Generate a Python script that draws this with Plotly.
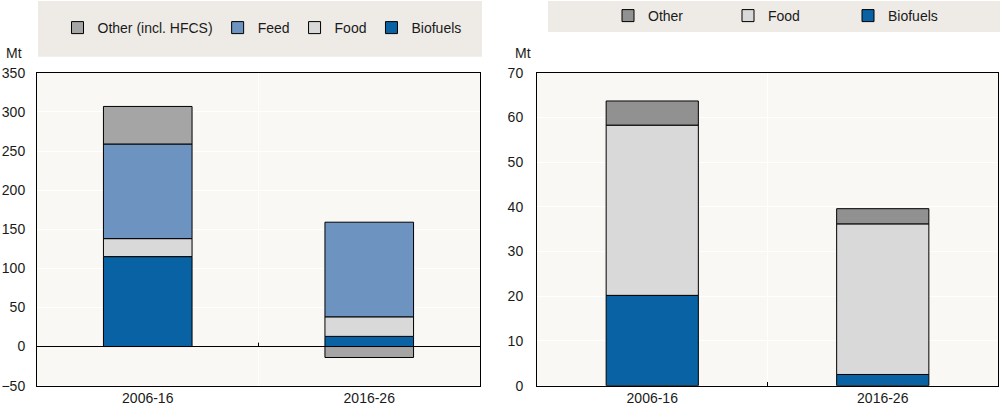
import plotly.graph_objects as go
from plotly.subplots import make_subplots

periods = ["2006-16", "2016-26"]

# Left panel (Mt)
left_biofuels = [115, 13]
left_food = [23, 25]
left_feed = [121, 121]
left_other = [48, -14]

# Right panel (Mt)
right_biofuels = [20.2, 2.5]
right_food = [38.1, 33.7]
right_other = [5.4, 3.4]

left_ticks = [-50, 0, 50, 100, 150, 200, 250, 300, 350]
right_ticks = [0, 10, 20, 30, 40, 50, 60, 70]

C_BIO = "#0862A3"
C_FEED = "#6D93C0"
C_FOOD = "#D9D9D9"
C_OTHER_L = "#A5A5A5"
C_OTHER_R = "#919191"
PLOT_BG = "#FAF8F5"
LEG_BG = "#EEEBE6"
FONT = "Liberation Sans Narrow, Arial Narrow, Liberation Sans, Arial, sans-serif"
FS = 14

fig = make_subplots(rows=1, cols=2)

line = dict(color="black", width=1)
fig.add_trace(go.Bar(x=periods, y=left_biofuels, name="Biofuels", marker=dict(color=C_BIO, line=line), legend="legend"), 1, 1)
fig.add_trace(go.Bar(x=periods, y=left_food, name="Food", marker=dict(color=C_FOOD, line=line), legend="legend"), 1, 1)
fig.add_trace(go.Bar(x=periods, y=left_feed, name="Feed", marker=dict(color=C_FEED, line=line), legend="legend"), 1, 1)
fig.add_trace(go.Bar(x=periods, y=left_other, name="Other (incl. HFCS)", marker=dict(color=C_OTHER_L, line=line), legend="legend"), 1, 1)

fig.add_trace(go.Bar(x=periods, y=right_biofuels, name="Biofuels", marker=dict(color=C_BIO, line=line), legend="legend2"), 1, 2)
fig.add_trace(go.Bar(x=periods, y=right_food, name="Food", marker=dict(color=C_FOOD, line=line), legend="legend2"), 1, 2)
fig.add_trace(go.Bar(x=periods, y=right_other, name="Other", marker=dict(color=C_OTHER_R, line=line), legend="legend2"), 1, 2)

ydom = [1 - 385.6 / 405, 1 - 72 / 405]
fig.update_layout(
    width=1000, height=405,
    margin=dict(l=0, r=0, t=0, b=0),
    paper_bgcolor="white",
    plot_bgcolor=PLOT_BG,
    barmode="relative",
    bargap=0.6,
    font=dict(family=FONT, size=FS, color="#1a1a1a"),
    showlegend=True,
    legend=dict(orientation="h", x=0.262, y=1 - 28 / 405, xanchor="center", yanchor="middle",
                traceorder="reversed", bgcolor="rgba(0,0,0,0)", font=dict(size=FS)),
    legend2=dict(orientation="h", x=0.788, y=1 - 15 / 405, xanchor="center", yanchor="middle",
                 traceorder="reversed", bgcolor="rgba(0,0,0,0)", font=dict(size=FS),
                 entrywidth=75),
    xaxis=dict(domain=[0.037, 0.480], showline=True, mirror=True, linecolor="black", linewidth=1,
               tickson="boundaries", showgrid=True, gridcolor="white", gridwidth=1, ticks="",
               automargin=False, range=[-0.5, 1.5]),
    xaxis2=dict(domain=[0.537, 0.998], showline=True, mirror=True, linecolor="black", linewidth=1,
                tickson="boundaries", showgrid=True, gridcolor="white", gridwidth=1, ticks="inside",
                ticklen=4, tickcolor="black", automargin=False, range=[-0.5, 1.5]),
    yaxis=dict(domain=ydom, range=[-50, 350], tickvals=left_ticks, showline=True, mirror=True,
               linecolor="black", linewidth=1, showgrid=True, gridcolor="white", gridwidth=1,
               zeroline=True, zerolinecolor="black", zerolinewidth=1, automargin=False,
               ticklabelstandoff=8),
    yaxis2=dict(domain=ydom, range=[0, 70], tickvals=right_ticks, showline=True, mirror=True,
                linecolor="black", linewidth=1, showgrid=True, gridcolor="white", gridwidth=1,
                zeroline=False, automargin=False, ticklabelstandoff=10),
    shapes=[
        dict(type="rect", xref="paper", yref="paper", x0=0.038, x1=0.482, y0=1 - 56 / 405, y1=1,
             fillcolor=LEG_BG, line=dict(width=0), layer="below"),
        dict(type="rect", xref="paper", yref="paper", x0=0.548, x1=1.0, y0=1 - 31 / 405, y1=1,
             fillcolor=LEG_BG, line=dict(width=0), layer="below"),
        dict(type="line", xref="x", yref="y", x0=0.5, x1=0.5, y0=0, y1=5,
             line=dict(color="black", width=1)),
    ],
    annotations=[
        dict(text="Mt", xref="paper", yref="paper", x=0.024, y=1 - 52 / 405, xanchor="right",
             yanchor="middle", showarrow=False, font=dict(size=FS)),
        dict(text="Mt", xref="paper", yref="paper", x=0.533, y=1 - 52 / 405, xanchor="right",
             yanchor="middle", showarrow=False, font=dict(size=FS)),
    ],
)

fig.write_html("out.html", config={"displayModeBar": False},
               post_script="document.body.style.margin='0';")
